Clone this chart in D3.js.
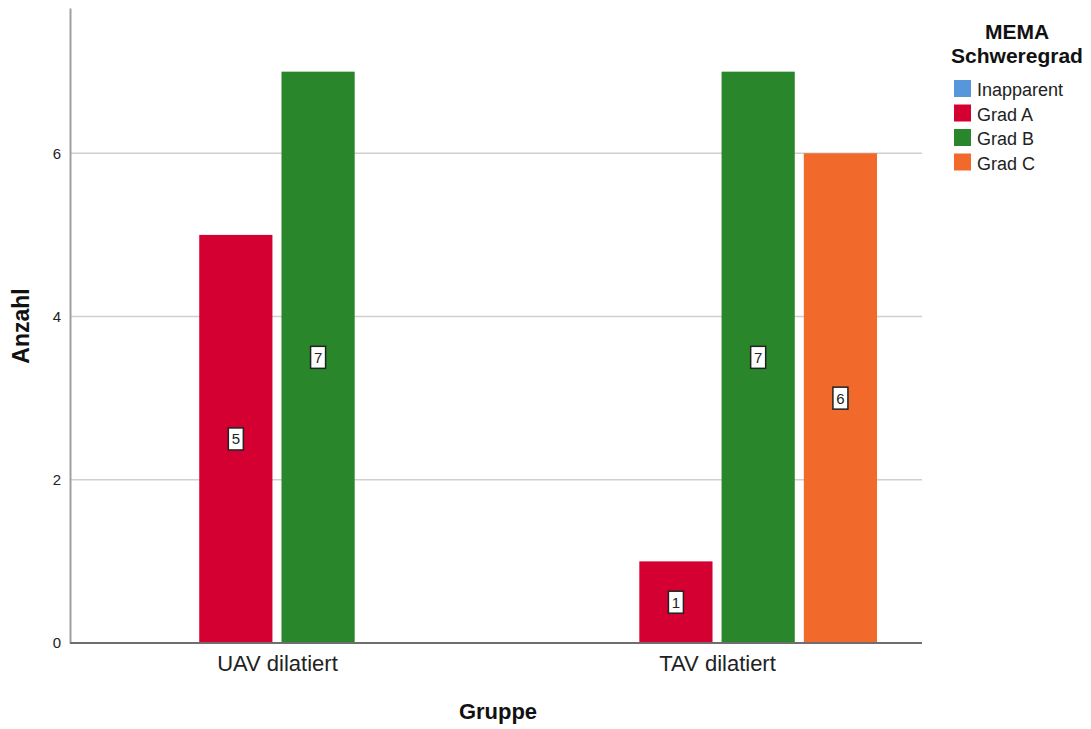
<!DOCTYPE html>
<html>
<head>
<meta charset="utf-8">
<script src="https://cdn.jsdelivr.net/npm/d3@7"></script>
<style>
  html, body { margin: 0; padding: 0; background: #fff; }
  svg { display: block; font-family: Arial, "Liberation Sans", sans-serif; }
</style>
</head>
<body>
<svg id="chart" width="1091" height="729"></svg>
<script>
// Gruppen, Schweregrade und Anzahlen
const groups = ["UAV dilatiert", "TAV dilatiert"];
const severities = ["Inapparent", "Grad A", "Grad B", "Grad C"];
const countsUAV = [0, 5, 7, 0];
const countsTAV = [0, 1, 7, 6];
const yTicks = [0, 2, 4, 6];
const colors = ["#5896dc", "#d50032", "#2a862a", "#f26a2b"];

const svg = d3.select("#chart");
const plotLeft = 70, plotRight = 922, plotTop = 8, plotBottom = 643;
const font = "Arial, 'Liberation Sans', sans-serif";

const y = d3.scaleLinear().domain([0, 7.78]).range([plotBottom, plotTop]);
const x0 = d3.scalePoint().domain(groups).range([plotLeft + 1, plotRight + 1]).padding(0.468);
const x1 = d3.scaleBand().domain(severities).range([-164.5, 164.5]).paddingInner(0.11).paddingOuter(0.055);
const color = d3.scaleOrdinal().domain(severities).range(colors);

const rows = [countsUAV, countsTAV];

// Gitterlinien
svg.append("g")
  .selectAll("line")
  .data(yTicks.filter(d => d > 0))
  .join("line")
  .attr("x1", plotLeft).attr("x2", plotRight)
  .attr("y1", d => y(d)).attr("y2", d => y(d))
  .attr("stroke", "#cfcfcf").attr("stroke-width", 1.5);

// Balken
const gGroups = svg.append("g")
  .selectAll("g")
  .data(groups)
  .join("g")
  .attr("transform", d => `translate(${x0(d)},0)`);

const bars = gGroups.selectAll("g.bar")
  .data((g, i) => severities.map((s, j) => ({ s, v: rows[i][j] })).filter(d => d.v > 0))
  .join("g").attr("class", "bar");

bars.append("rect")
  .attr("x", d => x1(d.s))
  .attr("width", x1.bandwidth())
  .attr("y", d => y(d.v))
  .attr("height", d => y(0) - y(d.v))
  .attr("fill", d => color(d.s));

// Wertbeschriftungen
bars.append("rect")
  .attr("x", d => x1(d.s) + x1.bandwidth() / 2 - 7.5)
  .attr("y", d => y(d.v / 2) - 11)
  .attr("width", 15).attr("height", 22)
  .attr("fill", "#fff").attr("stroke", "#222").attr("stroke-width", 1.5);

bars.append("text")
  .attr("x", d => x1(d.s) + x1.bandwidth() / 2)
  .attr("y", d => y(d.v / 2) + 5.5)
  .attr("text-anchor", "middle")
  .attr("font-size", 15)
  .attr("fill", "#222")
  .text(d => d.v);

// Y-Achse
const yAxis = svg.append("g")
  .attr("transform", `translate(${plotLeft},0)`)
  .call(d3.axisLeft(y).tickValues(yTicks).tickSize(0).tickPadding(9).tickFormat(d3.format("d")));
yAxis.select(".domain").attr("stroke", "#a0a0a0").attr("stroke-width", 2);
yAxis.selectAll("text").attr("font-size", 15).attr("fill", "#222").attr("font-family", font);

// X-Achse
const xAxis = svg.append("g")
  .attr("transform", `translate(0,${plotBottom})`)
  .call(d3.axisBottom(x0).tickSize(0).tickPadding(12));
xAxis.select(".domain").attr("stroke", "#6e6e6e").attr("stroke-width", 2)
  .attr("d", `M${plotLeft},0H${plotRight}`);
xAxis.selectAll("text").attr("font-size", 22).attr("fill", "#222").attr("font-family", font);

// Achsentitel
svg.append("text")
  .attr("transform", `translate(29,326) rotate(-90)`)
  .attr("text-anchor", "middle")
  .attr("font-size", 23).attr("font-weight", "bold").attr("fill", "#111")
  .text("Anzahl");

svg.append("text")
  .attr("x", 498).attr("y", 719)
  .attr("text-anchor", "middle")
  .attr("font-size", 22).attr("font-weight", "bold").attr("fill", "#111")
  .text("Gruppe");

// Legende
const legend = svg.append("g");
legend.append("text").attr("x", 1017).attr("y", 39)
  .attr("text-anchor", "middle").attr("font-size", 21).attr("font-weight", "bold").attr("fill", "#111")
  .text("MEMA");
legend.append("text").attr("x", 1017).attr("y", 63)
  .attr("text-anchor", "middle").attr("font-size", 21).attr("font-weight", "bold").attr("fill", "#111")
  .text("Schweregrad");

const items = legend.selectAll("g.item")
  .data(severities)
  .join("g").attr("class", "item")
  .attr("transform", (d, i) => `translate(954,${80 + i * 24.5})`);
items.append("rect").attr("width", 17).attr("height", 17).attr("fill", d => color(d));
items.append("text").attr("x", 23).attr("y", 16)
  .attr("font-size", 18).attr("fill", "#222")
  .text(d => d);
</script>
</body>
</html>
